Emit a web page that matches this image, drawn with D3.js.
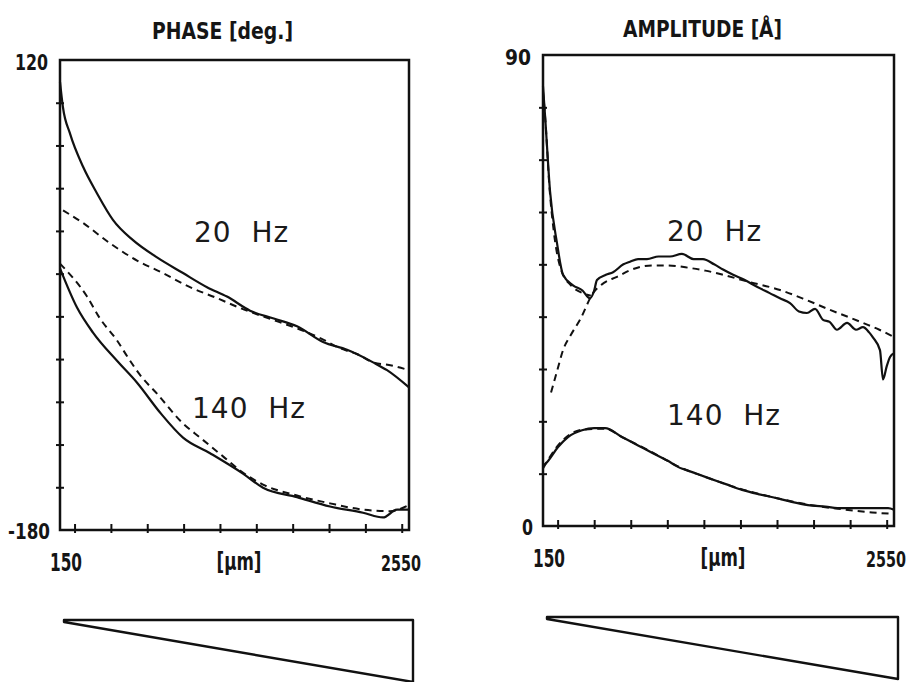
<!DOCTYPE html>
<html>
<head>
<meta charset="utf-8">
<script src="https://cdn.jsdelivr.net/npm/d3@7"></script>
<style>
  body { margin: 0; background: #fff; }
  svg { display: block; }
  .lbl { font-family: "Liberation Sans Narrow", "DejaVu Sans Condensed", "Arial Narrow", sans-serif; font-weight: bold; fill: #151515; }
  .hz { font-family: "DejaVu Sans", sans-serif; font-size: 28px; fill: #1a1a1a; white-space: pre; letter-spacing: 1px; }
</style>
</head>
<body>
<script>
// ---- data ----
// x axis: thickness in micrometres
const xDomain = [150, 2550];
const xTicks = [250, 500, 750, 1000, 1250, 1500, 1750, 2000, 2250, 2500];
const xTickLabels = ["150", "2550"];

// phase panel (deg.)
const phaseDomain = [-180, 120];
const phaseTickLabels = ["120", "-180"];

const phase20MeasX = [150, 170, 219, 308, 404, 514, 652, 817, 996, 1161, 1298, 1457, 1620, 1780, 1959, 2124, 2303, 2399, 2550];
const phase20MeasY = [106, 90, 73, 52, 35, 18, 5, -6, -16, -25, -31, -40, -45, -50, -60, -65, -73, -78, -89];
const phase20ModelX = [171, 308, 494, 680, 858, 1044, 1230, 1380, 1525, 1650, 1800, 1950, 2076, 2200, 2303, 2430, 2550];
const phase20ModelY = [24, 16, 3, -8, -16, -25, -32, -38, -43, -47, -52, -58, -64, -68, -73, -75, -78];

const phase140MeasX = [150, 267, 377, 542, 680, 838, 996, 1182, 1408, 1546, 1780, 2007, 2234, 2371, 2468, 2550];
const phase140MeasY = [-13, -38, -54, -72, -86, -105, -121, -131, -144, -153, -159, -165, -169, -172, -167, -167];
const phase140ModelX = [150, 336, 425, 542, 618, 700, 817, 996, 1113, 1271, 1388, 1546, 1780, 2007, 2234, 2419, 2550];
const phase140ModelY = [-10, -31, -45, -59, -70, -81, -93, -112, -121, -133, -142, -151, -158, -163, -167, -168, -164];

// amplitude panel (Å)
const ampDomain = [0, 90];
const ampTicks = [10, 20, 30, 40, 50, 60, 70, 80];
const ampTickLabels = ["90", "0"];

const amp20MeasX = [150, 165, 198, 246, 287, 355, 420, 471, 500, 519, 580, 629, 700, 745, 800, 861, 940, 1018, 1100, 1180, 1244, 1320, 1381, 1450, 1530, 1613, 1700, 1770, 1839, 1900, 1955, 2010, 2065, 2110, 2160, 2229, 2290, 2338, 2380, 2407, 2454, 2475, 2500, 2523, 2550];
const amp20MeasY = [84, 78, 64, 54, 48, 46, 45, 43.5, 45, 47, 48, 48.5, 50, 50.5, 51, 51, 51.5, 51.5, 52, 51, 51, 50, 49, 48, 47, 45.7, 44.5, 43.5, 42.6, 41, 40.7, 41.5, 39.4, 39, 37.5, 38.8, 37.5, 38, 37, 36, 33.6, 28, 30.5, 32.3, 33];
const amp20ModelAX = [150, 170, 191, 225, 273, 341, 420, 477];
const amp20ModelAY = [83, 76, 66, 56, 49, 46, 44.5, 44];
const amp20ModelBX = [205, 250, 287, 340, 403, 492, 570, 656, 740, 813, 900, 1000, 1155, 1260, 1381, 1550, 1771, 1950, 2112, 2250, 2338, 2450, 2550];
const amp20ModelBY = [25.5, 30, 33.6, 36.5, 39.4, 44.5, 46.5, 47.6, 48.8, 49.5, 49.8, 49.8, 49.3, 48.8, 48, 46.7, 45.1, 43.2, 41.3, 39.8, 38.8, 37.5, 36.1];

const amp140MeasX = [150, 177, 253, 321, 417, 500, 574, 690, 800, 895, 1000, 1073, 1180, 1278, 1400, 1511, 1620, 1736, 1850, 1962, 2080, 2194, 2300, 2400, 2509, 2550];
const amp140MeasY = [11.5, 12.2, 15.1, 17, 18.3, 18.7, 18.7, 17, 15.4, 14, 12.5, 11.3, 10.2, 9.2, 8, 6.9, 6.1, 5.4, 4.6, 4, 3.7, 3.4, 3.4, 3.4, 3.4, 3.1];
const amp140ModelX = [150, 250, 420, 574, 690, 895, 1073, 1278, 1511, 1736, 1962, 2194, 2400, 2550];
const amp140ModelY = [11, 15.3, 18.4, 18.6, 17, 14.1, 11.4, 9.2, 7, 5.4, 4.1, 3.2, 2.6, 2.3];

// wedge sketch under each panel: thickness along the x axis
const wedgeX = [150, 2550];

const zip = (xs, ys) => xs.map((x, i) => ({ x: x, y: ys[i] }));

//////////////////////////////////////////////////

const svg = d3.select('body').append('svg')
  .attr('width', 920)
  .attr('height', 682);

function drawPanel(p) {
  const x = d3.scaleLinear().domain(xDomain).range([p.left, p.right]);
  const y = d3.scaleLinear().domain(p.yDomain).range([p.bottom, p.top]);
  const g = svg.append('g');

  // frame
  g.append('rect')
    .attr('x', x(xDomain[0])).attr('y', y(p.yDomain[1]))
    .attr('width', x(xDomain[1]) - x(xDomain[0]))
    .attr('height', y(p.yDomain[0]) - y(p.yDomain[1]))
    .attr('fill', 'none').attr('stroke', '#111').attr('stroke-width', 2.5);

  // ticks cross the axes
  const xAxis = d3.axisBottom(x).tickValues(xTicks).tickSize(-9).tickFormat('');
  g.append('g').attr('transform', 'translate(0,' + (p.bottom + 3) + ')').call(xAxis)
    .call(a => a.select('.domain').remove())
    .call(a => a.selectAll('line').attr('stroke', '#111').attr('stroke-width', 2));

  const yAxis = d3.axisLeft(y).tickValues(p.yTicks).tickSize(-8).tickFormat('');
  g.append('g').attr('transform', 'translate(' + (p.left - 4) + ',0)').call(yAxis)
    .call(a => a.select('.domain').remove())
    .call(a => a.selectAll('line').attr('stroke', '#111').attr('stroke-width', 2));

  // curves
  const line = d3.line().x(d => x(d.x)).y(d => y(d.y)).curve(d3.curveMonotoneX);
  p.series.forEach(s => {
    g.append('path')
      .datum(zip(s.xs, s.ys))
      .attr('d', line)
      .attr('fill', 'none')
      .attr('stroke', '#111')
      .attr('stroke-width', s.dash ? 2 : 2.2)
      .attr('stroke-dasharray', s.dash ? '7,5' : null);
  });

  // title
  g.append('text').attr('class', 'lbl')
    .attr('x', p.titleX).attr('y', p.titleY)
    .attr('font-size', 23)
    .attr('textLength', p.titleW).attr('lengthAdjust', 'spacingAndGlyphs')
    .text(p.title);

  // end labels on y
  g.append('text').attr('class', 'lbl').attr('font-size', 22)
    .attr('text-anchor', 'end')
    .attr('x', p.left - 12).attr('y', y(p.yDomain[1]) + 10)
    .attr('textLength', p.yLabW[0]).attr('lengthAdjust', 'spacingAndGlyphs')
    .text(p.yLabels[0]);
  g.append('text').attr('class', 'lbl').attr('font-size', 22)
    .attr('text-anchor', 'end')
    .attr('x', p.left - 10).attr('y', y(p.yDomain[0]) + 9)
    .attr('textLength', p.yLabW[1]).attr('lengthAdjust', 'spacingAndGlyphs')
    .text(p.yLabels[1]);

  // end labels on x
  g.append('text').attr('class', 'lbl').attr('font-size', 25)
    .attr('x', x(xDomain[0]) - 10).attr('y', p.bottom + 41)
    .attr('textLength', 32).attr('lengthAdjust', 'spacingAndGlyphs')
    .text(xTickLabels[0]);
  g.append('text').attr('class', 'lbl').attr('font-size', 22)
    .attr('x', x(xDomain[1]) - 28).attr('y', p.bottom + 41)
    .attr('textLength', 40).attr('lengthAdjust', 'spacingAndGlyphs')
    .text(xTickLabels[1]);
  g.append('text').attr('class', 'lbl').attr('font-size', 24)
    .attr('x', (p.left + p.right) / 2 + 4 - 22).attr('y', p.bottom + 40)
    .attr('textLength', 45).attr('lengthAdjust', 'spacingAndGlyphs')
    .text('[µm]');

  // frequency labels
  p.hz.forEach(h => {
    g.append('text').attr('class', 'hz').attr('x', h.x).attr('y', h.y).text(h.t);
  });

  // wedge
  const w = d3.scaleLinear().domain(xDomain).range([2, 62]);
  const wedge = wedgeX.map(v => [x(v) + 4, p.wedgeTop + w(v)]);
  g.append('path')
    .attr('d', 'M' + wedge[0][0] + ',' + p.wedgeTop +
               'L' + wedge[1][0] + ',' + p.wedgeTop +
               'L' + wedge[1][0] + ',' + wedge[1][1] +
               'L' + wedge[0][0] + ',' + wedge[0][1] + 'Z')
    .attr('fill', 'none').attr('stroke', '#111').attr('stroke-width', 2.4)
    .attr('stroke-linejoin', 'round');
}

// Phase
drawPanel({
  left: 60, right: 409, top: 60, bottom: 530,
  yDomain: phaseDomain,
  yTicks: d3.range(1, 11).map(k => phaseDomain[1] - k * (phaseDomain[1] - phaseDomain[0]) / 11),
  yLabels: phaseTickLabels, yLabW: [33, 42],
  title: 'PHASE [deg.]', titleX: 152, titleY: 39, titleW: 141,
  hz: [{ t: '20  Hz', x: 194, y: 242 }, { t: '140  Hz', x: 192, y: 418 }],
  wedgeTop: 620,
  series: [
    { xs: phase20MeasX, ys: phase20MeasY },
    { xs: phase20ModelX, ys: phase20ModelY, dash: true },
    { xs: phase140MeasX, ys: phase140MeasY },
    { xs: phase140ModelX, ys: phase140ModelY, dash: true }
  ]
});

// Amplitude
drawPanel({
  left: 543, right: 894, top: 55, bottom: 526,
  yDomain: ampDomain,
  yTicks: ampTicks,
  yLabels: ampTickLabels, yLabW: [26, 11],
  title: 'AMPLITUDE [Å]', titleX: 623, titleY: 37, titleW: 159,
  hz: [{ t: '20  Hz', x: 667, y: 241 }, { t: '140  Hz', x: 667, y: 425 }],
  wedgeTop: 617,
  series: [
    { xs: amp20MeasX, ys: amp20MeasY },
    { xs: amp20ModelAX, ys: amp20ModelAY, dash: true },
    { xs: amp20ModelBX, ys: amp20ModelBY, dash: true },
    { xs: amp140MeasX, ys: amp140MeasY },
    { xs: amp140ModelX, ys: amp140ModelY, dash: true }
  ]
});
</script>
</body>
</html>
